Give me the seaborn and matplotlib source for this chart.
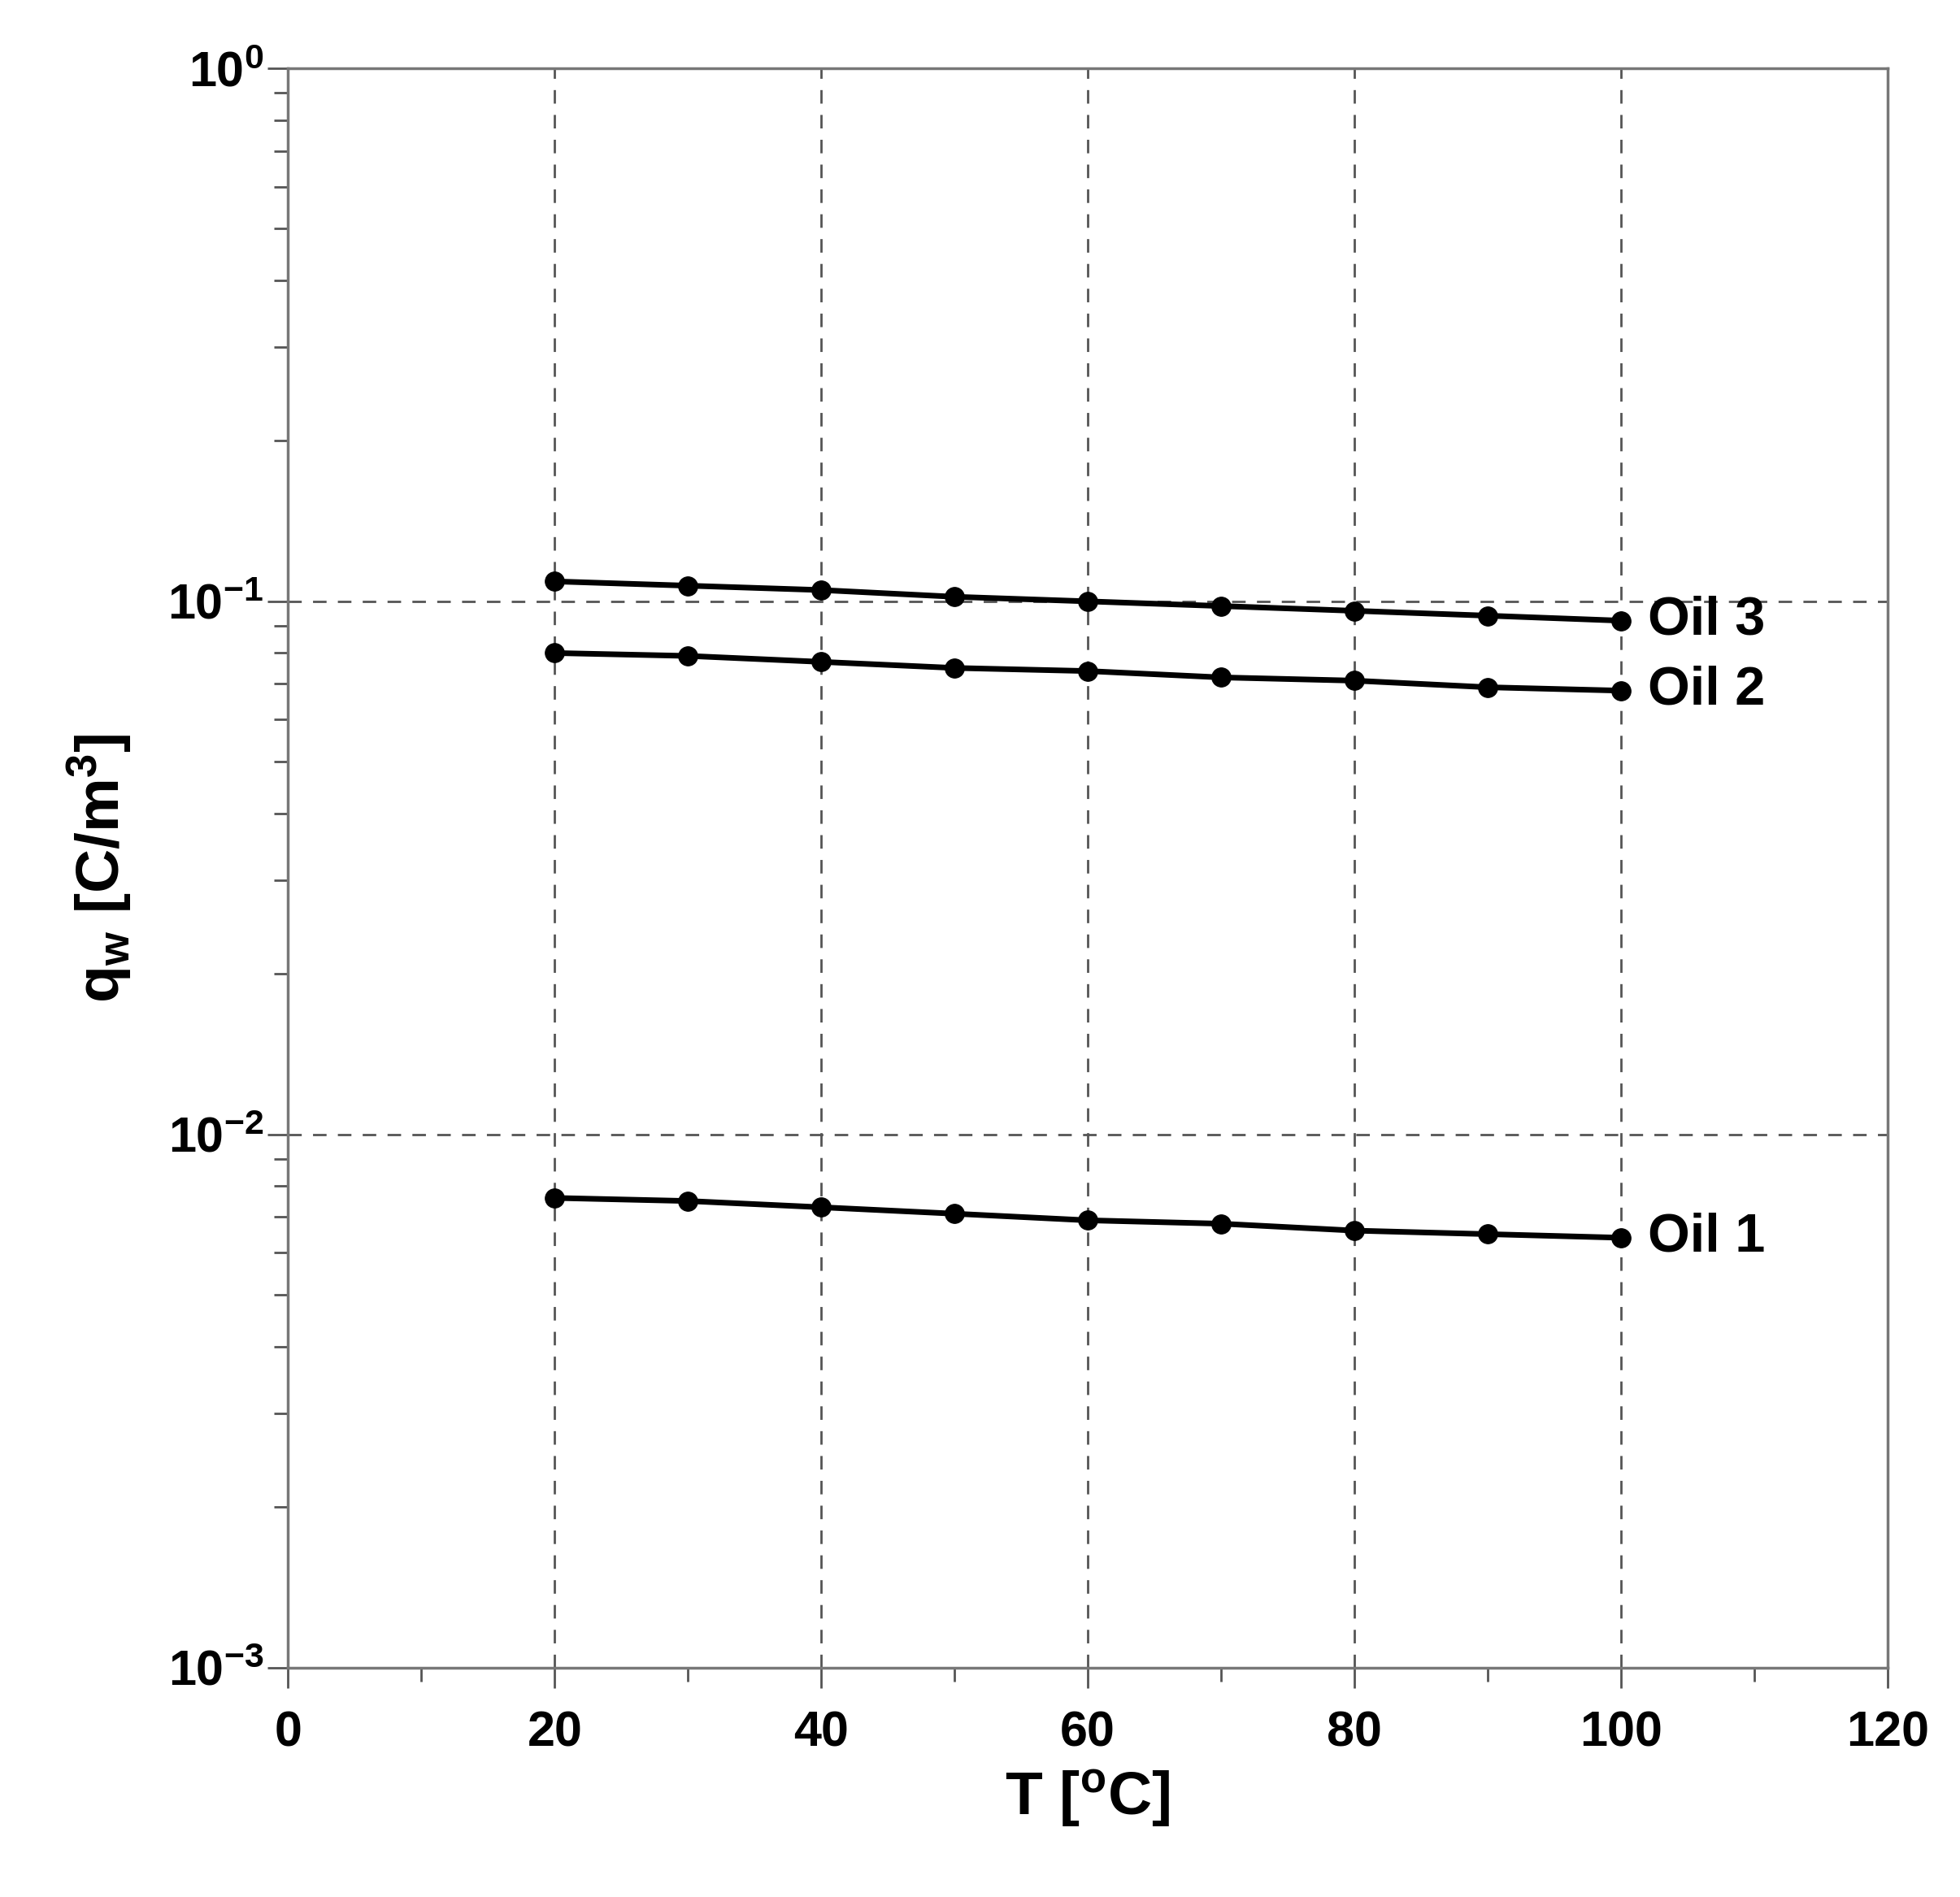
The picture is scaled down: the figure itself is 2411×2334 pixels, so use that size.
import matplotlib
matplotlib.use("Agg")
import matplotlib.pyplot as plt
import seaborn as sns
import pandas as pd
from matplotlib.ticker import FixedLocator, LogLocator, NullFormatter

T = [20, 30, 40, 50, 60, 70, 80, 90, 100]
oil1 = [0.0076, 0.0075, 0.0073, 0.0071, 0.0069, 0.0068, 0.0066, 0.0065, 0.0064]
oil2 = [0.080, 0.079, 0.077, 0.075, 0.074, 0.072, 0.071, 0.069, 0.068]
oil3 = [0.109, 0.107, 0.105, 0.102, 0.100, 0.098, 0.096, 0.094, 0.092]
labels = ["Oil 1", "Oil 2", "Oil 3"]

sns.set_style("white")
plt.rcParams['font.family'] = ['Liberation Sans', 'DejaVu Sans']
plt.rcParams['text.color'] = 'black'
plt.rcParams['axes.labelcolor'] = 'black'
plt.rcParams['xtick.labelcolor'] = 'black'
plt.rcParams['ytick.labelcolor'] = 'black'
plt.rcParams['mathtext.fontset'] = 'custom'
plt.rcParams['mathtext.bf'] = 'Liberation Sans:bold'
plt.rcParams['mathtext.rm'] = 'Liberation Sans'
fig = plt.figure(figsize=(24.11, 23.34), dpi=100)
ax = fig.add_axes([0.147, 0.121, 0.816, 0.843])
for name, vals in zip(labels, [oil1, oil2, oil3]):
    df = pd.DataFrame({"T": T, "q": vals})
    sns.lineplot(data=df, x="T", y="q", ax=ax, color="black", lw=5,
                 marker="o", markersize=17, markeredgecolor="black")
    ax.text(T[-1] + 2, vals[-1], name, fontsize=48, fontweight="bold", va="center")
ax.set_yscale("log")
ax.set_xlim(0, 120)
ax.set_ylim(1e-3, 1)
ax.set_yticks([1e-3, 1e-2, 1e-1, 1])
ax.set_yticklabels([r"$\mathbf{10^{-3}}$", r"$\mathbf{10^{-2}}$", r"$\mathbf{10^{-1}}$", r"$\mathbf{10^{0}}$"])
ax.yaxis.set_minor_locator(LogLocator(base=10, subs=range(2, 10)))
ax.yaxis.set_minor_formatter(NullFormatter())
ax.set_xticks(range(0, 121, 20))
ax.xaxis.set_minor_locator(FixedLocator(range(10, 120, 20)))
ax.tick_params(axis="both", which="major", direction="out", length=18, width=2,
               color="#555555", labelsize=44, bottom=True, left=True)
ax.tick_params(axis="both", which="minor", direction="out", length=12, width=2,
               color="#555555", bottom=True, left=True)
for lab in ax.get_xticklabels():
    lab.set_fontweight("bold")
ax.tick_params(axis="x", pad=20)
for s in ax.spines.values():
    s.set_color("#777777"); s.set_linewidth(2.5)
for x in range(20, 101, 20):
    ax.axvline(x, color="#555555", ls=(0, (6, 5)), lw=2, zorder=0)
for y in [1e-2, 1e-1]:
    ax.axhline(y, color="#555555", ls=(0, (6, 5)), lw=2, zorder=0)
ax.set_xlabel("T [$\\mathbf{^{o}}$C]", fontsize=54, fontweight="bold", labelpad=10)
ax.set_ylabel("q$_\\mathbf{w}$ [C/m$\\mathbf{^3}$]", fontsize=54, fontweight="bold", labelpad=30)
fig.savefig("out.png", dpi=100, facecolor="white")
